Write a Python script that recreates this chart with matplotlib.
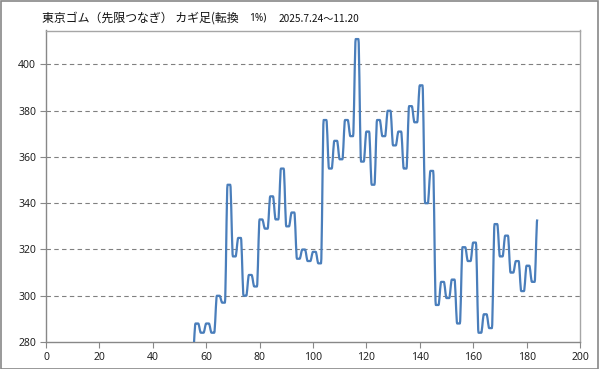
import numpy as np
import matplotlib
matplotlib.use("Agg")
import matplotlib.pyplot as plt
from matplotlib.path import Path
from matplotlib.patches import PathPatch, Rectangle

plt.rcParams['font.family'] = ['Noto Sans CJK JP', 'DejaVu Sans']

title_main = "東京ゴム（先限つなぎ） カギ足(転換"
title_rate = "1%)"
title_span = "2025.7.24〜11.20"

# kagi turning levels, each held for two rows; first one lies below the axis
start_idx = 54
levels = [274, 288, 284, 288, 284, 300, 297, 348, 317, 325, 300, 309, 304,
          333, 329, 343, 333, 355, 330, 336, 316, 320, 315, 319, 314, 376,
          355, 367, 359, 376, 369, 411, 358, 371, 348, 376, 369, 380, 365,
          371, 355, 382, 375, 391, 340, 354, 296, 306, 299, 307, 288, 321,
          315, 323, 284, 292, 286, 331, 317, 326, 310, 315, 302, 313, 306,
          333]

y = np.repeat(levels, 2)[:-1].astype(float)
x = start_idx + np.arange(len(y), dtype=float)

xticks = list(range(0, 201, 20))
yticks = list(range(280, 401, 20))


def smooth_path(xs, ys):
    # smoothed line, flat tangents at every point (no overshoot)
    verts = [(xs[0], ys[0])]
    codes = [Path.MOVETO]
    for i in range(len(xs) - 1):
        dx = (xs[i + 1] - xs[i]) / 3.0
        verts += [(xs[i] + dx, ys[i]), (xs[i + 1] - dx, ys[i + 1]),
                  (xs[i + 1], ys[i + 1])]
        codes += [Path.CURVE4] * 3
    return Path(verts, codes)


fig = plt.figure(figsize=(5.99, 3.69), dpi=100)
W, H = 599, 369
ax = fig.add_axes([46 / W, 1 - 342 / H, (580 - 46) / W, (342 - 30.5) / H])

ax.set_xlim(0, 200)
ax.set_ylim(280, 414.7)
ax.set_xticks(xticks)
ax.set_yticks(yticks)
ax.tick_params(axis='both', labelsize=7.5, length=4, width=0.8,
               direction='out', pad=3, colors='#888888', labelcolor='#222222')
for lab in ax.get_xticklabels() + ax.get_yticklabels():
    lab.set_family(['Noto Sans', 'DejaVu Sans'])

for v in yticks[1:]:
    ax.axhline(v, color='#808080', lw=0.8, ls=(0, (4, 3)), zorder=1)

for side in ['top', 'right']:
    ax.spines[side].set_color('#a6a6a6')
    ax.spines[side].set_linewidth(1.0)
for side in ['left', 'bottom']:
    ax.spines[side].set_color('#888888')
    ax.spines[side].set_linewidth(1.0)

patch = PathPatch(smooth_path(x, y), facecolor='none', edgecolor='#4a7ebb',
                  lw=1.6, zorder=3, clip_on=True, joinstyle='round')
ax.add_patch(patch)

fig.text(42 / W, 1 - 18 / H, title_main, fontsize=8.6, va='center',
         ha='left', color='#111111')
fig.text(249 / W, 1 - 18.5 / H, title_rate, fontsize=7.3, va='center',
         ha='left', color='#111111', family=['Noto Sans', 'DejaVu Sans'])
fig.text(279 / W, 1 - 18.5 / H, title_span, fontsize=7.3, va='center',
         ha='left', color='#111111')

fig.patches.append(Rectangle((0.5 / W, 0.5 / H), (W - 1.5) / W, (H - 1.5) / H,
                             transform=fig.transFigure, fill=False,
                             edgecolor='#888888', lw=1.2))

fig.savefig("out.png", dpi=100)
